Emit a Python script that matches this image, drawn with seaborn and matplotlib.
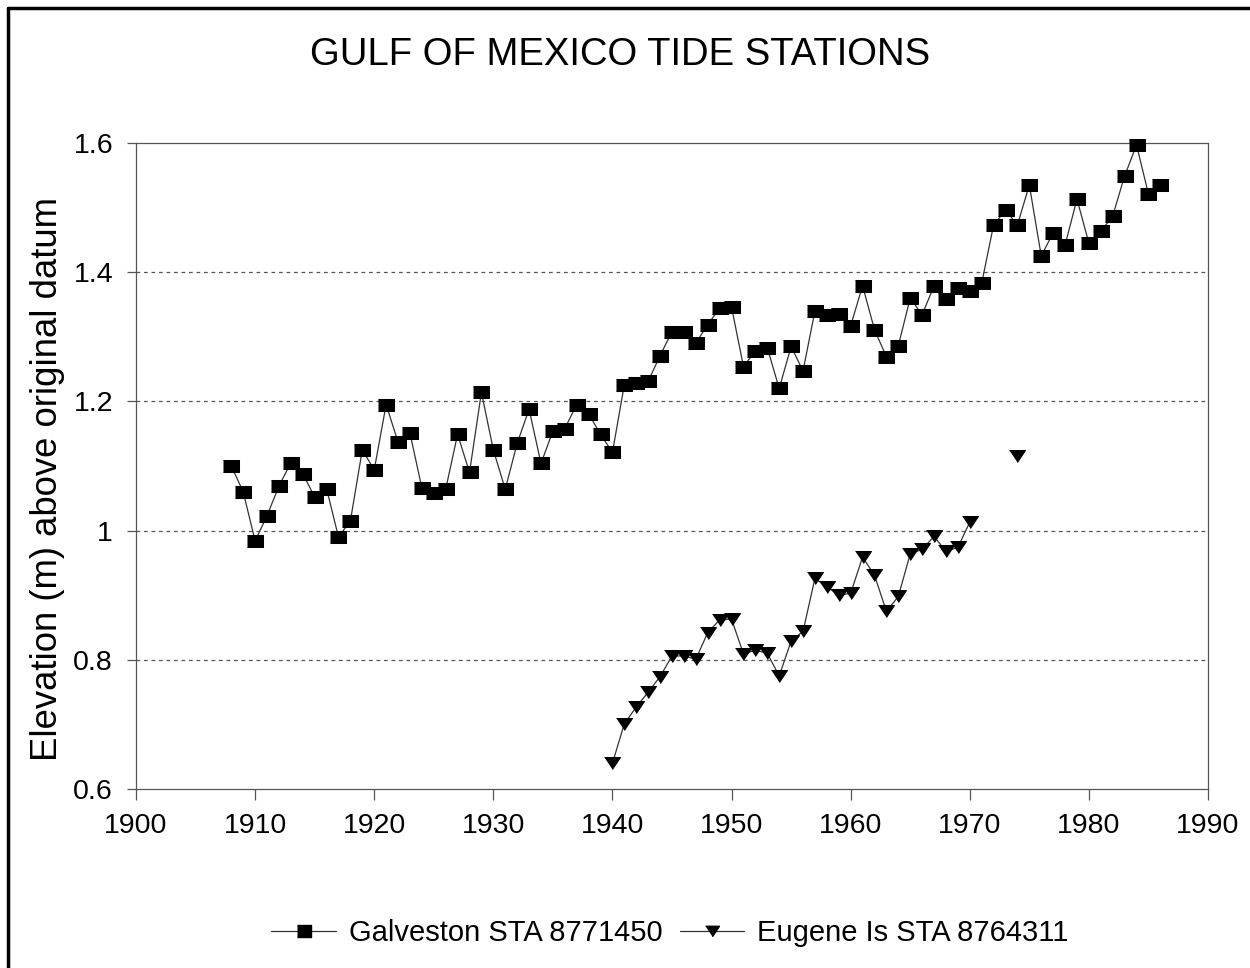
import numpy as np
import pandas as pd
import seaborn as sns
import matplotlib.pyplot as plt
from matplotlib.lines import Line2D

# Galveston STA 8771450, annual mean elevation (m)
galv_years = list(range(1908, 1987))
galv_elev = [1.100, 1.060, 0.984, 1.023, 1.069, 1.105, 1.088, 1.052, 1.065, 0.990,
             1.015, 1.125, 1.094, 1.195, 1.137, 1.151, 1.066, 1.058, 1.064, 1.149,
             1.090, 1.214, 1.125, 1.064, 1.135, 1.188, 1.104, 1.154, 1.158, 1.195,
             1.181, 1.149, 1.121, 1.226, 1.228, 1.231, 1.271, 1.308, 1.308, 1.290,
             1.319, 1.344, 1.346, 1.254, 1.278, 1.283, 1.220, 1.285, 1.247, 1.340,
             1.334, 1.336, 1.317, 1.379, 1.311, 1.269, 1.286, 1.360, 1.334, 1.379,
             1.358, 1.376, 1.371, 1.383, 1.473, 1.496, 1.473, 1.535, 1.425, 1.461,
             1.442, 1.513, 1.445, 1.463, 1.487, 1.549, 1.597, 1.521, 1.535]

# Eugene Is STA 8764311 (no data 1971-1973)
eug_years = list(range(1940, 1971)) + [1974]
eug_elev = [0.640, 0.701, 0.727, 0.750, 0.774, 0.806, 0.806, 0.801, 0.842, 0.862,
            0.863, 0.809, 0.815, 0.810, 0.775, 0.829, 0.844, 0.926, 0.913, 0.900,
            0.903, 0.959, 0.931, 0.875, 0.898, 0.964, 0.971, 0.991, 0.968, 0.974,
            1.013, 1.115]
eug_segment = [0] * 31 + [1]

galv = pd.DataFrame({"year": galv_years, "elev": galv_elev, "seg": 0})
eug = pd.DataFrame({"year": eug_years, "elev": eug_elev, "seg": eug_segment})

sns.set_style("white")
plt.rcParams['font.family'] = ['Liberation Sans', 'DejaVu Sans']
plt.rcParams['text.color'] = 'black'

rect_mark = [(-1, -0.8), (1, -0.8), (1, 0.8), (-1, 0.8)]
tri_mark = [(-1, 0.75), (1, 0.75), (0, -0.75)]
line_col = "#333333"

fig = plt.figure(figsize=(12.5, 9.68), dpi=100)
ax = fig.add_axes([0.1088, 0.1849, 0.8576, 0.6674])

sns.lineplot(data=galv, x="year", y="elev", units="seg", estimator=None, ax=ax,
             color=line_col, linewidth=0.9, marker=rect_mark, markersize=11.5,
             markerfacecolor="black", markeredgecolor="black", legend=False)
sns.lineplot(data=eug, x="year", y="elev", units="seg", estimator=None, ax=ax,
             color=line_col, linewidth=0.9, marker=tri_mark, markersize=11.5,
             markerfacecolor="black", markeredgecolor="black", legend=False)
for ln in ax.lines:
    ln.set_clip_on(False)
    ln.set_zorder(3)

ax.set_xlim(1900, 1990)
ax.set_ylim(0.6, 1.6)
ax.set_xticks(range(1900, 1991, 10))
ax.set_yticks([0.6, 0.8, 1.0, 1.2, 1.4, 1.6])
ax.set_yticklabels(["0.6", "0.8", "1", "1.2", "1.4", "1.6"])
ax.set_xlabel("")
ax.set_ylabel("")
for y in [0.8, 1.0, 1.2, 1.4]:
    ax.axhline(y, color="#555555", linewidth=0.9, linestyle=(0, (3, 3)), zorder=0)
for s in ax.spines.values():
    s.set_color("#555555")
    s.set_linewidth(0.9)
ax.tick_params(axis="x", direction="out", length=8, width=0.9, color="#555555",
               labelsize=20.5, labelcolor="black", pad=9, bottom=True)
ax.tick_params(axis="y", direction="out", length=6.5, width=0.9, color="#555555",
               labelsize=20.5, labelcolor="black", pad=10, left=True)

fig.text(0.496, 0.943, "GULF OF MEXICO TIDE STATIONS", ha="center", va="center",
         fontsize=27.5)
fig.text(0.038, 0.505, "Elevation (m) above original datum", rotation=90,
         ha="center", va="center", fontsize=26.3)

handles = [
    Line2D([], [], color=line_col, linewidth=0.9, marker=rect_mark, markersize=10,
           markerfacecolor="black", markeredgecolor="black"),
    Line2D([], [], color=line_col, linewidth=0.9, marker=tri_mark, markersize=10,
           markerfacecolor="black", markeredgecolor="black"),
]
fig.legend(handles, ["Galveston STA 8771450", "Eugene Is STA 8764311"],
           loc="center", bbox_to_anchor=(0.536, 0.036), ncol=2, frameon=False,
           fontsize=21, handlelength=2.2, handletextpad=0.45, columnspacing=0.6)

# page frame (left and top edges)
fig.add_artist(Line2D([8 / 1250, 8 / 1250], [0, 1 - 8 / 968], color="black",
                      linewidth=2.5, transform=fig.transFigure))
fig.add_artist(Line2D([8 / 1250, 1], [1 - 8 / 968, 1 - 8 / 968], color="black",
                      linewidth=2.5, transform=fig.transFigure))

fig.savefig("out.png", dpi=100)
